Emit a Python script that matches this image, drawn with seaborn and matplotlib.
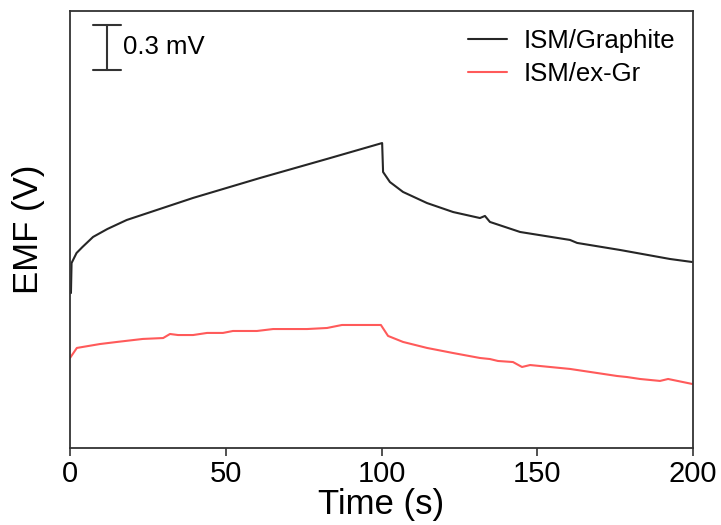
import matplotlib
matplotlib.use("Agg")
import matplotlib.pyplot as plt
import seaborn as sns
import pandas as pd

# ---- data (EMF relative, in mV) ----
t_graphite = [0.3, 0.5, 2.1, 4.0, 7.4, 12.0, 18.2, 39.5, 61.0, 82.5, 100.2, 100.5,
              102.7, 106.9, 114.6, 123.0, 131.6, 133.2, 134.8, 144.5, 160.5, 162.8,
              176.6, 192.6, 199.7]
v_graphite = [1.033, 1.233, 1.300, 1.340, 1.407, 1.460, 1.520, 1.667, 1.800, 1.927,
              2.033, 1.840, 1.773, 1.707, 1.633, 1.573, 1.533, 1.547, 1.507, 1.440,
              1.387, 1.367, 1.320, 1.260, 1.240]

t_exgr = [0.0, 2.2, 9.6, 15.1, 23.4, 29.9, 32.1, 34.7, 39.5, 44.0, 49.1, 52.3, 60.0,
          65.2, 71.6, 76.1, 82.5, 87.3, 90.9, 99.8, 102.1, 106.9, 114.6, 123.0, 131.6,
          134.8, 137.4, 142.2, 145.1, 147.7, 160.5, 175.6, 178.8, 183.0, 189.4, 192.0,
          199.7]
v_exgr = [0.600, 0.667, 0.693, 0.707, 0.727, 0.733, 0.760, 0.753, 0.753, 0.767, 0.767,
          0.780, 0.780, 0.793, 0.793, 0.793, 0.800, 0.820, 0.820, 0.820, 0.747, 0.707,
          0.667, 0.633, 0.600, 0.593, 0.580, 0.573, 0.540, 0.553, 0.527, 0.480, 0.473,
          0.460, 0.447, 0.460, 0.427]

labels = ["ISM/Graphite", "ISM/ex-Gr"]
x_ticks = [0, 50, 100, 150, 200]
scale_bar_mv = 0.3

df = pd.concat([
    pd.DataFrame({"t": t_graphite, "v": v_graphite, "s": labels[0]}),
    pd.DataFrame({"t": t_exgr, "v": v_exgr, "s": labels[1]}),
], ignore_index=True)

sns.set_theme(style="white")
plt.rcParams["font.family"] = ["Liberation Sans", "DejaVu Sans"]
plt.rcParams["text.color"] = "black"
plt.rcParams["axes.labelcolor"] = "black"
plt.rcParams["xtick.color"] = "black"

fig = plt.figure(figsize=(7.21, 5.25), dpi=100)
ax = fig.add_axes([0.0971, 0.1467, 0.8641, 0.8314])

sns.lineplot(data=df, x="t", y="v", hue="s", hue_order=labels,
             palette=["#262626", "#ff5a5a"], estimator=None, sort=False,
             linewidth=1.5, ax=ax)

ax.set_xlim(0, 200)
ax.set_ylim(0, 2.91)
ax.set_xticks(x_ticks)
ax.set_yticks([])
ax.tick_params(axis="x", direction="out", length=6, width=1.2, labelsize=21,
               bottom=True, pad=3, color="#333333", labelcolor="black")
for sp in ax.spines.values():
    sp.set_linewidth(1.3)
    sp.set_color("#333333")

ax.set_xlabel("Time (s)", fontsize=25, labelpad=0)
ax.set_ylabel("EMF (V)", fontsize=25, labelpad=18)

# scale bar
xb = 11.8
ytop, ybot = 2.82, 2.82 - scale_bar_mv
ax.plot([xb, xb], [ybot, ytop], color="#333333", lw=1.5)
ax.plot([7.4, 16.4], [ytop, ytop], color="#333333", lw=1.5)
ax.plot([7.4, 16.4], [ybot, ybot], color="#333333", lw=1.5)
ax.text(17.0, (ytop + ybot) / 2, "0.3 mV", fontsize=18.5, va="center", ha="left")

leg = ax.legend(loc="upper right", frameon=False, fontsize=18.5, handlelength=1.55,
                handletextpad=0.62, labelspacing=0.32, borderaxespad=0.3)
for line in leg.get_lines():
    line.set_linewidth(1.5)

fig.savefig("out.png", dpi=100)
